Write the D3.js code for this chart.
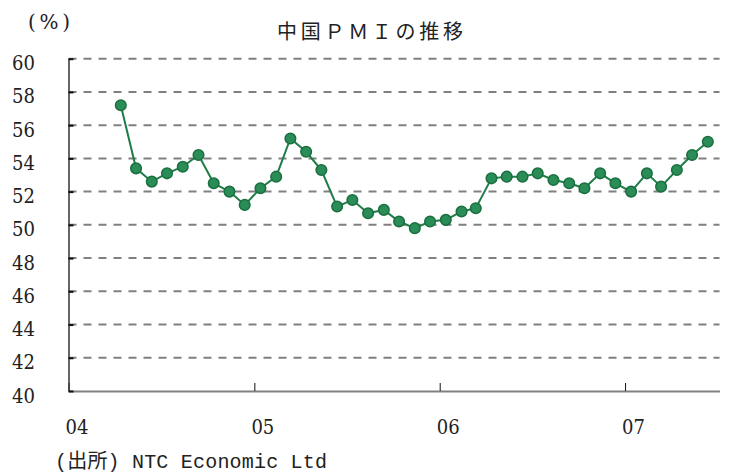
<!DOCTYPE html>
<html>
<head>
<meta charset="utf-8">
<script src="https://d3js.org/d3.v7.min.js"></script>
<style>
  html, body { margin: 0; padding: 0; background: #fff; }
  svg { display: block; }
</style>
</head>
<body>
<svg id="chart" width="749" height="475"></svg>
<script>
// monthly PMI, Apr 2004 - Jun 2007
var months = [
  "2004-04","2004-05","2004-06","2004-07","2004-08","2004-09","2004-10","2004-11","2004-12",
  "2005-01","2005-02","2005-03","2005-04","2005-05","2005-06","2005-07","2005-08","2005-09","2005-10","2005-11","2005-12",
  "2006-01","2006-02","2006-03","2006-04","2006-05","2006-06","2006-07","2006-08","2006-09","2006-10","2006-11","2006-12",
  "2007-01","2007-02","2007-03","2007-04","2007-05","2007-06"
];
var pmi = [
  57.2, 53.4, 52.6, 53.1, 53.5, 54.2, 52.5, 52.0, 51.2,
  52.2, 52.9, 55.2, 54.4, 53.3, 51.1, 51.5, 50.7, 50.9, 50.2, 49.8, 50.2,
  50.3, 50.8, 51.0, 52.8, 52.9, 52.9, 53.1, 52.7, 52.5, 52.2, 53.1, 52.5,
  52.0, 53.1, 52.3, 53.3, 54.2, 55.0
];
var yTicks = [40, 42, 44, 46, 48, 50, 52, 54, 56, 58, 60];
var yearTicks = ["2004", "2005", "2006", "2007"];
var yearLabels = ["04", "05", "06", "07"];

var title = "中国ＰＭＩの推移";
var unitLabel = "(%)";
var source = "(出所) NTC Economic Ltd";

var serif = "'DejaVu Serif', 'Liberation Serif', serif";

var svg = d3.select("#chart");
var parseMonth = d3.timeParse("%Y-%m-%d");
var data = months.map(function(m, i) {
  return { date: parseMonth(m + "-13"), value: pmi[i] };
});

var x = d3.scaleTime()
  .domain([new Date(2004, 0, 1), new Date(2007, 6, 6)])
  .range([68.5, 719.5]);
var y = d3.scaleLinear()
  .domain([40, 60])
  .range([391, 58.7]);

// gridlines
svg.append("g")
  .selectAll("line")
  .data(yTicks.filter(function(d) { return d > 40; }))
  .enter().append("line")
  .attr("x1", x.range()[0])
  .attr("x2", x.range()[1])
  .attr("y1", function(d) { return y(d); })
  .attr("y2", function(d) { return y(d); })
  .attr("stroke", "#808080")
  .attr("stroke-width", 2)
  .attr("stroke-dasharray", "8,7");

// x axis
var yearDates = yearTicks.map(function(s) { return d3.timeParse("%Y")(s); });
var xAxis = svg.append("g")
  .attr("transform", "translate(0," + y(40) + ")")
  .call(d3.axisBottom(x)
    .tickValues(yearDates)
    .tickFormat(function(d, i) { return yearLabels[i]; })
    .tickSizeInner(-8)
    .tickSizeOuter(0)
    .tickPadding(29));
xAxis.attr("font-family", serif).attr("font-size", 20).attr("font-stretch", "condensed");
xAxis.select(".domain").attr("stroke", "#808080").attr("stroke-width", 2);
xAxis.selectAll(".tick line").attr("stroke", "#111").attr("stroke-width", 1);
xAxis.selectAll(".tick text")
  .attr("fill", "#222")
  .attr("x", 8);

// y axis
var yAxis = svg.append("g")
  .attr("transform", "translate(" + x.range()[0] + ",0)")
  .call(d3.axisLeft(y)
    .tickValues(yTicks)
    .tickSizeInner(-5)
    .tickSizeOuter(0)
    .tickPadding(33.5));
yAxis.attr("font-family", serif).attr("font-size", 20).attr("font-stretch", "condensed");
yAxis.select(".domain").attr("stroke", "#333").attr("stroke-width", 1.5);
yAxis.selectAll(".tick line").attr("stroke", "#111").attr("stroke-width", 2);
yAxis.selectAll(".tick text")
  .attr("fill", "#222")
  .attr("dy", "0.55em");

// series
var line = d3.line()
  .x(function(d) { return x(d.date); })
  .y(function(d) { return y(d.value); });

svg.append("path")
  .datum(data)
  .attr("fill", "none")
  .attr("stroke", "#1f7d47")
  .attr("stroke-width", 2)
  .attr("d", line);

svg.append("g")
  .selectAll("circle")
  .data(data)
  .enter().append("circle")
  .attr("cx", function(d) { return x(d.date); })
  .attr("cy", function(d) { return y(d.value); })
  .attr("r", 5.3)
  .attr("fill", "#2a8c57")
  .attr("stroke", "#1a6f3f")
  .attr("stroke-width", 1.5);

// texts
svg.append("text")
  .attr("x", 370)
  .attr("y", 39)
  .attr("text-anchor", "middle")
  .attr("font-family", "'Noto Sans CJK JP', sans-serif")
  .attr("font-size", 20)
  .attr("fill", "#222")
  .attr("textLength", 186)
  .text(title);

svg.append("text")
  .attr("x", 28)
  .attr("y", 29)
  .attr("font-family", serif)
  .attr("font-size", 20)
  .attr("fill", "#222")
  .attr("textLength", 42)
  .text(unitLabel);

svg.append("text")
  .attr("x", 55)
  .attr("y", 468)
  .attr("font-family", "'Liberation Mono', 'Noto Sans CJK JP', monospace")
  .attr("font-size", 20)
  .attr("fill", "#222")
  .attr("textLength", 272)
  .text(source);
</script>
</body>
</html>
